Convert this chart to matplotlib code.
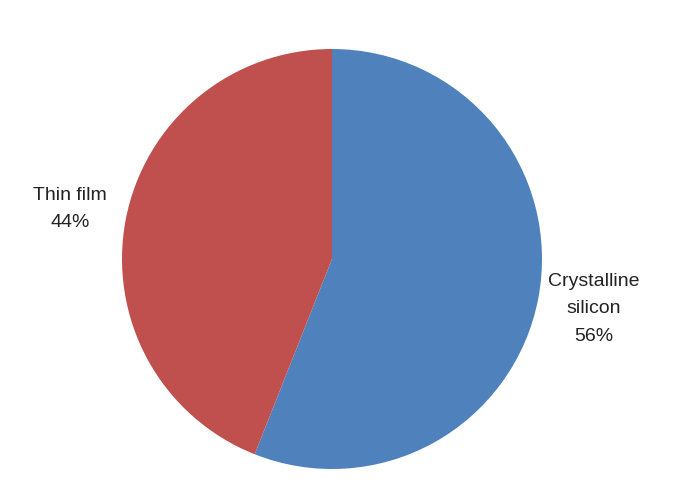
import matplotlib
matplotlib.use("Agg")
import matplotlib.pyplot as plt

categories = ["Crystalline\nsilicon", "Thin film"]
shares = [56, 44]
colors = ["#4F81BD", "#C0504D"]

plt.rcParams['font.family'] = ['Liberation Sans', 'DejaVu Sans']

fig = plt.figure(figsize=(7, 5), dpi=100)
W, H = 700, 500
cx, cy, r = 332, 259, 210
ax = fig.add_axes([(cx - r) / W, (H - cy - r) / H, 2 * r / W, 2 * r / H])

labels = [f"{c}\n{s}%" for c, s in zip(categories, shares)]
wedges, texts = ax.pie(shares, labels=labels, colors=colors, startangle=90,
                       counterclock=False, labeldistance=1.27,
                       wedgeprops=dict(linewidth=0),
                       textprops=dict(fontsize=14, color="#222222",
                                      linespacing=1.8, ha="center",
                                      va="center"))
for t in texts:
    t.set_horizontalalignment("center")
    t.set_verticalalignment("center")
    t.set_linespacing(1.8)
ax.set_xlim(-1, 1)
ax.set_ylim(-1, 1)
ax.set_aspect("equal")
ax.axis("off")
fig.savefig("out.png", dpi=100)
